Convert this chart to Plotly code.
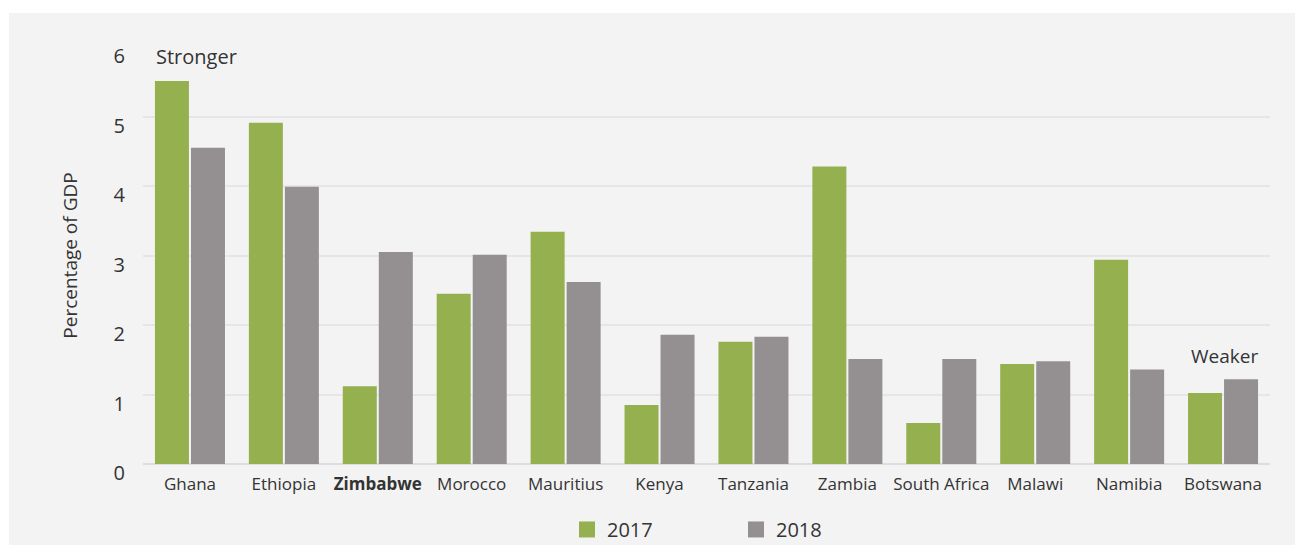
import plotly.graph_objects as go

# Data: percentage of GDP by country, 2017 vs 2018
countries = ["Ghana", "Ethiopia", "Zimbabwe", "Morocco", "Mauritius", "Kenya",
             "Tanzania", "Zambia", "South Africa", "Malawi", "Namibia", "Botswana"]
tick_labels = ["Ghana", "Ethiopia", "<b>Zimbabwe</b>", "Morocco", "Mauritius", "Kenya",
               "Tanzania", "Zambia", "South Africa", "Malawi", "Namibia", "Botswana"]
values_2017 = [5.51, 4.91, 1.12, 2.45, 3.34, 0.85, 1.76, 4.28, 0.59, 1.44, 2.94, 1.02]
values_2018 = [4.55, 3.99, 3.05, 3.01, 2.62, 1.86, 1.83, 1.51, 1.51, 1.48, 1.36, 1.22]
y_ticks = [0, 1, 2, 3, 4, 5, 6]

GREEN = "#95b04f"
GREY = "#949091"
PANEL = "#f3f3f3"
TEXT = "#333333"
FONT = "Open Sans"

fig = go.Figure()
fig.add_trace(go.Bar(x=countries, y=values_2017, name="2017",
                     marker=dict(color=GREEN, line=dict(width=0)), showlegend=False))
fig.add_trace(go.Bar(x=countries, y=values_2018, name="2018",
                     marker=dict(color=GREY, line=dict(width=0)), showlegend=False))

# Legend entries with larger square swatches
for name, color in [("2017", GREEN), ("2018", GREY)]:
    fig.add_trace(go.Scatter(x=[None], y=[None], mode="markers", name=name,
                             marker=dict(symbol="square", size=16, color=color)))

W, H = 1295, 545
L, R, T, B = 143, 25, 47, 81
plot_w = W - L - R
plot_h = H - T - B

# White frame around the grey panel (top and left strips)
fig.add_shape(type="rect", xref="paper", yref="paper",
              x0=-1, x1=(9 - L) / plot_w, y0=-1, y1=2,
              fillcolor="white", line=dict(width=0), layer="below")
fig.add_shape(type="rect", xref="paper", yref="paper",
              x0=-1, x1=2, y0=(H - B - 13) / plot_h, y1=2,
              fillcolor="white", line=dict(width=0), layer="below")

fig.add_annotation(text="Stronger", xref="paper", yref="y",
                   x=(154 - L) / plot_w, y=5.87, xanchor="left", yanchor="middle",
                   showarrow=False, font=dict(family=FONT, size=20, color=TEXT))
fig.add_annotation(text="Weaker", xref="paper", yref="y",
                   x=(1224.5 - L) / plot_w, y=1.55, xanchor="center", yanchor="middle",
                   showarrow=False, font=dict(family=FONT, size=19, color=TEXT))

fig.update_layout(
    width=W, height=H,
    margin=dict(l=L, r=R, t=T, b=B, autoexpand=False),
    paper_bgcolor=PANEL, plot_bgcolor=PANEL,
    barmode="group", bargap=0.233, bargroupgap=0.056,
    font=dict(family=FONT, color=TEXT),
    legend=dict(orientation="h", x=(567 - L) / plot_w, xanchor="left",
                y=-0.157, yanchor="middle", entrywidth=124, entrywidthmode="pixels",
                font=dict(family=FONT, size=20, color=TEXT), bgcolor="rgba(0,0,0,0)",
                itemclick=False),
    xaxis=dict(tickmode="array", tickvals=countries, ticktext=tick_labels,
               tickfont=dict(family=FONT, size=17, color=TEXT),
               ticklabelstandoff=8,
               showgrid=False, showline=False, ticks="", automargin=False),
    yaxis=dict(range=[0, 6], tickmode="array", tickvals=y_ticks,
               tickfont=dict(family=FONT, size=20, color=TEXT),
               ticklabelstandoff=17, ticklabelshift=9,
               showgrid=True, gridcolor="#e6e6e6", gridwidth=1.5,
               zeroline=True, zerolinecolor="#dddddd", zerolinewidth=2,
               showline=False, ticks="", automargin=False,
               title=dict(text="Percentage of GDP", standoff=30,
                          font=dict(family=FONT, size=19, color=TEXT))),
)

fig.write_html("out.html")
